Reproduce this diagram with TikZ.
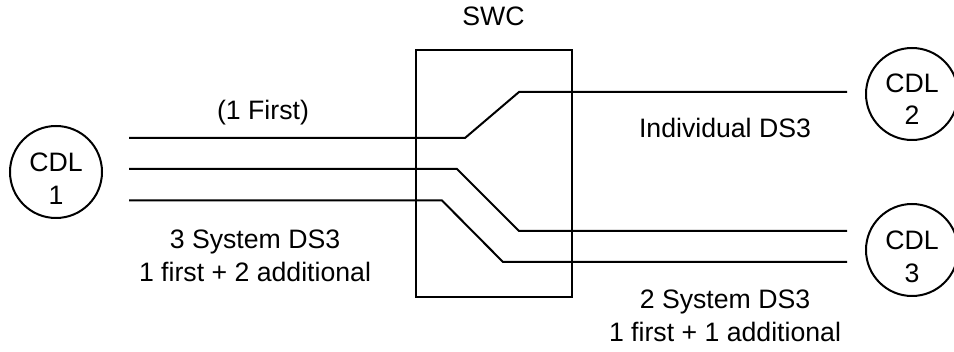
\documentclass[tikz,border=0pt]{standalone}
\usepackage{fontspec}
\setmainfont{Liberation Sans}
\usepackage{tikz}
\usetikzlibrary{positioning}

\begin{document}
\begin{tikzpicture}[x=0.75pt, y=-0.75pt,
    every node/.style={font=\fontsize{20}{24.5}\selectfont},
    cdl/.style={draw, circle, line width=1.5pt, minimum size=69pt,
                inner sep=0pt},
    wire/.style={line width=1.5pt, line join=miter},
    lbl/.style={align=center, inner sep=0pt}]
  \useasboundingbox (0,0) rectangle (954,352);

  % end offices
  \node[cdl, label={[lbl, yshift=-5pt]center:{CDL\\1}}] (cdlA) at (56,172) {};
  \node[cdl, label={[lbl, yshift=-4pt]center:{CDL\\2}}] (cdlB) at (912,94) {};
  \node[cdl, label={[lbl, yshift=-5pt]center:{CDL\\3}}] (cdlC) at (912,250) {};

  % switch
  \node[draw, line width=1.5pt, minimum width=117pt, minimum height=185pt,
        inner sep=0pt] (swc) at (493.5,173.5) {};
  \node[lbl, above=17pt of swc.north] (swcLbl) {SWC};

  % wire ends and bends
  \coordinate (inA)  at (129,138);
  \coordinate (inB)  at (129,169);
  \coordinate (inC)  at (129,200.5);
  \coordinate (bnA1) at (465,138);
  \coordinate (bnA2) at (519,92);
  \coordinate (bnB1) at (457,169);
  \coordinate (bnB2) at (519,231);
  \coordinate (bnC1) at (442,200.5);
  \coordinate (bnC2) at (503,262);
  \coordinate (outA) at (847,92);
  \coordinate (outB) at (847,231);
  \coordinate (outC) at (847,262);

  \draw[wire] (inA) -- (bnA1) -- (bnA2) -- (outA);
  \draw[wire] (inB) -- (bnB1) -- (bnB2) -- (outB);
  \draw[wire] (inC) -- (bnC1) -- (bnC2) -- (outC);

  % labels
  \node[lbl] (first) at (263,113) {(1 First)};
  \node[lbl] (sysA) at (255,256) {3 System DS3\\1 first + 2 additional};
  \node[lbl] (indiv) at (725,128) {Individual DS3};
  \node[lbl] (sysB) at (725,316) {2 System DS3\\1 first + 1 additional};
\end{tikzpicture}
\end{document}
